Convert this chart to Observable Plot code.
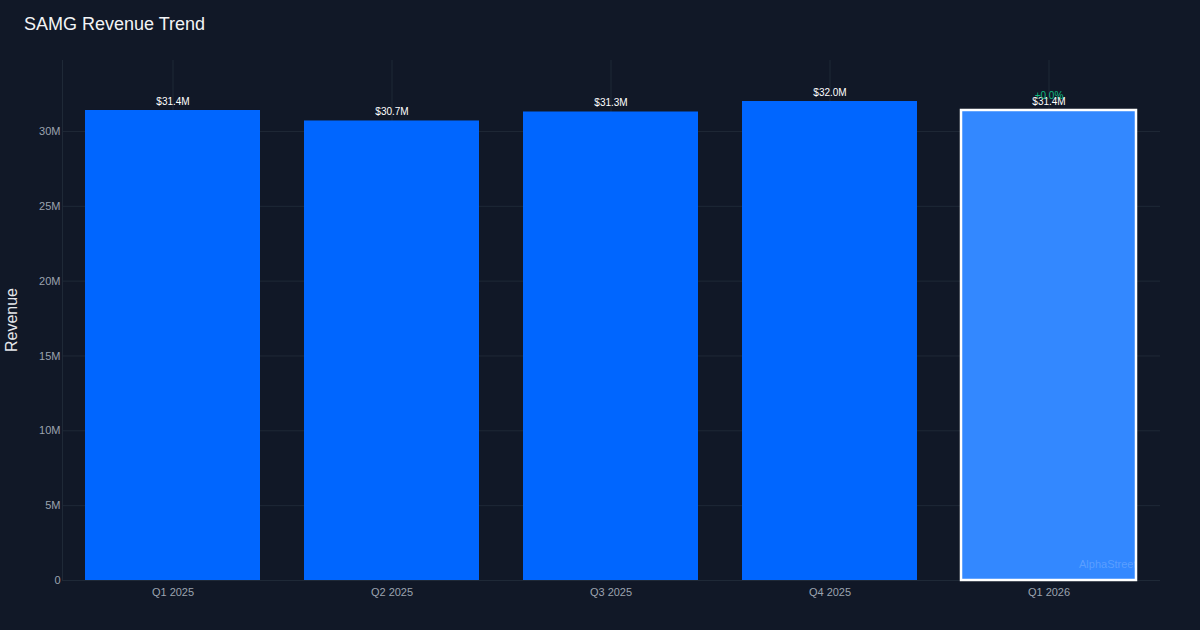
<!DOCTYPE html>
<html>
<head>
<meta charset="utf-8">
<script src="https://cdn.jsdelivr.net/npm/d3@7"></script>
<script src="https://cdn.jsdelivr.net/npm/@observablehq/plot@0.6"></script>
<style>
  html, body { margin: 0; padding: 0; background: #111827; }
  #wrap { position: relative; width: 1200px; height: 630px; background: #111827; font-family: "Liberation Sans", Arial, sans-serif; overflow: hidden; }
  #title { position: absolute; left: 24px; top: 14px; font-size: 18px; color: #f3f4f6; }
  #ylab { position: absolute; left: 12px; top: 320px; transform: translate(-50%, -50%) rotate(-90deg); font-size: 16px; color: #e5e7eb; white-space: nowrap; }
  #chart { position: absolute; left: 0; top: 0; }
</style>
</head>
<body>
<div id="wrap">
  <div id="chart"></div>
  <div id="title">SAMG Revenue Trend</div>
  <div id="ylab">Revenue</div>
</div>
<script>
const quarters = ["Q1 2025", "Q2 2025", "Q3 2025", "Q4 2025", "Q1 2026"];
const revenue = [31.4, 30.7, 31.3, 32.0, 31.4]; // millions USD
const labels = ["$31.4M", "$30.7M", "$31.3M", "$32.0M", "$31.4M"];
const isEstimate = [false, false, false, false, true];
const changeLabel = "+0.0%";
const yTicks = [0, 5, 10, 15, 20, 25, 30];
const yTickLabels = ["0", "5M", "10M", "15M", "20M", "25M", "30M"];

const data = quarters.map((q, i) => ({q, v: revenue[i], label: labels[i], est: isEstimate[i]}));
const last = data[data.length - 1];

const chart = Plot.plot({
  width: 1200,
  height: 630,
  marginLeft: 62,
  marginRight: 40,
  marginTop: 60,
  marginBottom: 50,
  style: {background: "transparent", fontFamily: "Liberation Sans, Arial, sans-serif", fontSize: "11px", color: "#9ca3af"},
  x: {domain: quarters, paddingInner: 0.2, paddingOuter: 0.1, label: null, tickSize: 0},
  y: {domain: [0, 34.74], label: null, ticks: yTicks, tickSize: 0},
  marks: [
    Plot.gridY(yTicks, {stroke: "#1f2937", strokeOpacity: 1}),
    Plot.gridX(quarters, {stroke: "#1f2937", strokeOpacity: 1}),
    Plot.frame({anchor: "left", stroke: "#1f2937", strokeOpacity: 1}),
    Plot.ruleY([0], {stroke: "#1f2937"}),
    Plot.axisY({ticks: yTicks, tickFormat: d => yTickLabels[yTicks.indexOf(d)], tickSize: 0, tickPadding: 2, fill: "#9ca3af", fontSize: 11, label: null}),
    Plot.axisX({tickSize: 0, tickPadding: 8, fill: "#9ca3af", fontSize: 11, label: null}),
    Plot.barY(data.filter(d => !d.est), {x: "q", y: "v", fill: "#0066ff"}),
    Plot.barY(data.filter(d => d.est), {x: "q", y: "v", fill: "#3388ff", stroke: "#ffffff", strokeWidth: 2.5}),
    Plot.text(data, {x: "q", y: "v", text: "label", dy: -9, fill: "#ffffff", fontSize: 10}),
    Plot.text([last], {x: "q", y: "v", text: () => changeLabel, dy: -15, fill: "#10b981", fontSize: 10}),
    Plot.text(["AlphaStreet"], {frameAnchor: "bottom-right", dx: -24, dy: -13, text: d => d, fill: "#ffffff", fillOpacity: 0.2, fontSize: 11, textAnchor: "end"})
  ]
});
document.getElementById("chart").appendChild(chart);
</script>
</body>
</html>
